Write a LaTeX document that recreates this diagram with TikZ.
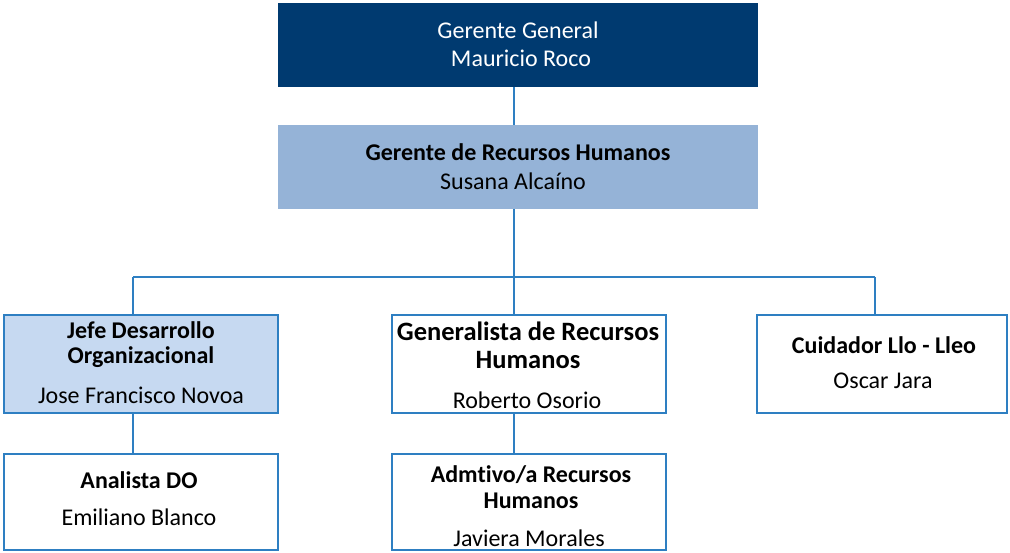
\documentclass[tikz,border=0pt]{standalone}
\usepackage{fontspec}
\setmainfont{Carlito}[Ligatures=NoCommon]
\definecolor{navy}{HTML}{003A70}
\definecolor{midblue}{HTML}{95B3D7}
\definecolor{lightblue}{HTML}{C6D9F1}
\definecolor{edgeblue}{HTML}{2E7FC2}
\begin{document}
\begin{tikzpicture}[x=1pt,y=-1pt,
  box/.style={draw=edgeblue, line width=1.6pt, inner sep=0pt, minimum width=#1},
  box/.default=274pt,
  conn/.style={draw=edgeblue, line width=1.6pt},
  txt/.style={inner sep=0pt, font=\fontsize{24}{28}\selectfont},
  btxt/.style={txt, font=\fontsize{24}{28}\selectfont\bfseries},
  bigbtxt/.style={txt, font=\fontsize{26.5}{30}\selectfont\bfseries}]
\useasboundingbox (0,0) rectangle (1010,552);
% boxes
\node[fill=navy, minimum width=480pt, minimum height=84pt, inner sep=0pt] (gg) at (518,45) {};
\node[fill=midblue, minimum width=480pt, minimum height=84pt, inner sep=0pt] (rh) at (518,167) {};
\node[box, fill=lightblue, minimum height=98pt] (jefe) at (141,364) {};
\node[box, fill=white, minimum height=98pt] (gen) at (529,364) {};
\node[box=250pt, fill=white, minimum height=98pt] (cui) at (882,364) {};
\node[box, fill=white, minimum height=96pt] (ana) at (141,502) {};
\node[box, fill=white, minimum height=96pt] (adm) at (529,502) {};
% texts
\node[txt, text=white] at (518,30) {Gerente General};
\node[txt, text=white] at (521,58) {Mauricio Roco};
\node[btxt] at (518,152) {Gerente de Recursos Humanos};
\node[txt] at (513,181) {Susana Alcaíno};
\node[btxt] at (141,330) {Jefe Desarrollo};
\node[btxt] at (141,357) {Organizacional};
\node[txt] at (141,395) {Jose Francisco Novoa};
\node[bigbtxt] at (528,331) {Generalista de Recursos};
\node[bigbtxt] at (528,360) {Humanos};
\node[txt] at (527,400) {Roberto Osorio};
\node[btxt] at (884,345) {Cuidador Llo - Lleo};
\node[txt] at (883,381) {Oscar Jara};
\node[btxt] at (139,480) {Analista DO};
\node[txt] at (139,517) {Emiliano Blanco};
\node[btxt] at (531,475) {Admtivo/a Recursos};
\node[btxt] at (531,501) {Humanos};
\node[txt] at (529,538) {Javiera Morales};
% connectors
\coordinate (bl) at (133,277);
\coordinate (bm) at (514,277);
\coordinate (br) at (875,277);
\draw[conn] (gg.south -| bm) -- (rh.north -| bm);
\draw[conn] (rh.south -| bm) -- (bm);
\draw[conn] (bl) -- (br);
\draw[conn] (bl) -- (bl |- jefe.north);
\draw[conn] (bm) -- (bm |- gen.north);
\draw[conn] (br) -- (br |- cui.north);
\draw[conn] (jefe.south -| bl) -- (ana.north -| bl);
\draw[conn] (gen.south -| bm) -- (adm.north -| bm);
\end{tikzpicture}
\end{document}
